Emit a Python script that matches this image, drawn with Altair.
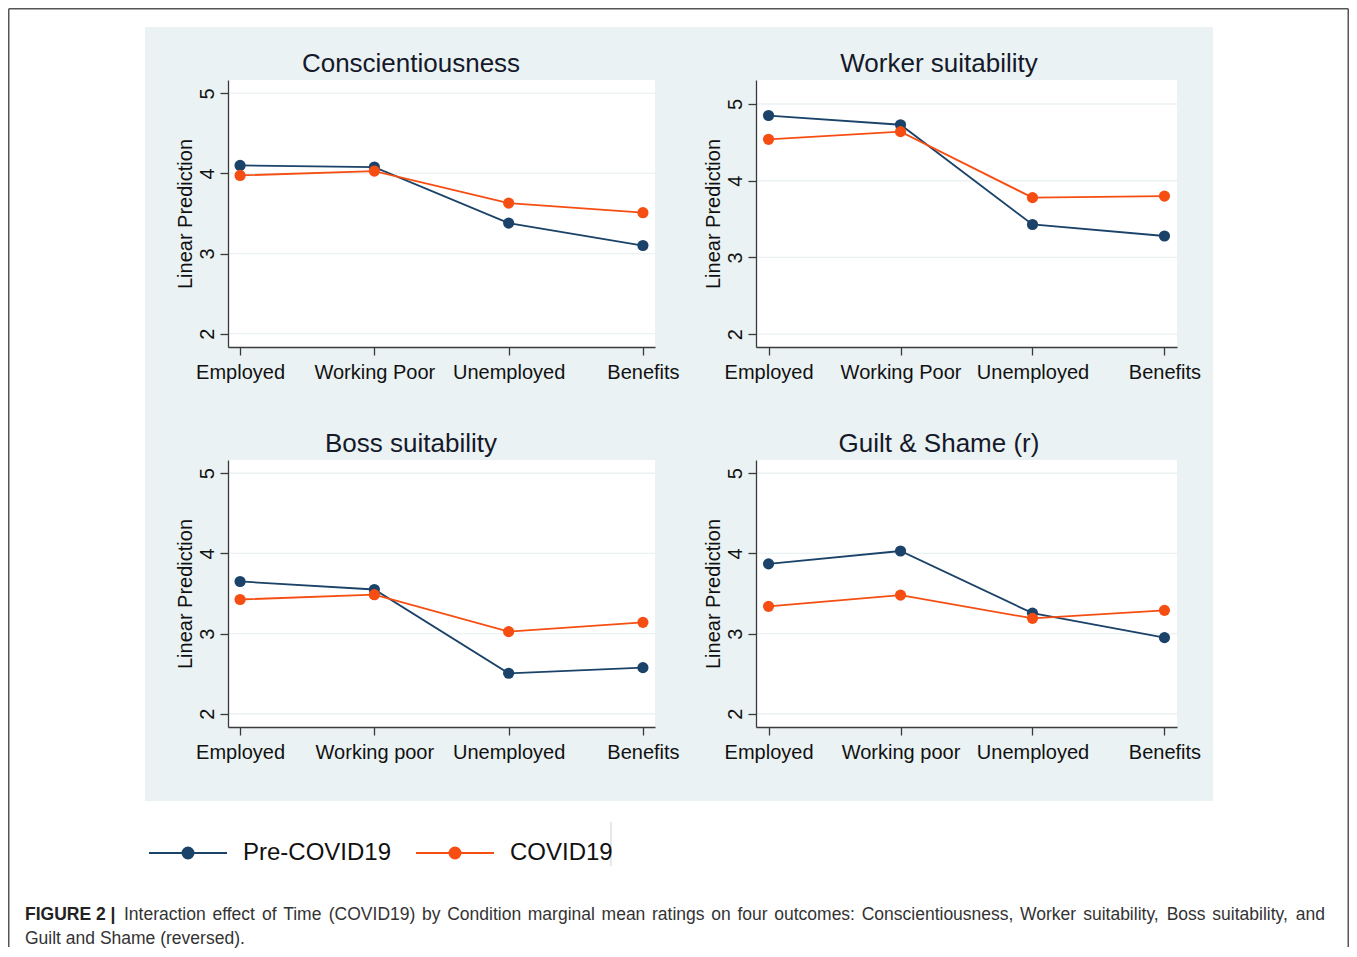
import altair as alt
import pandas as pd

# ---------------- data ----------------
conditions_top = ["Employed", "Working Poor", "Unemployed", "Benefits"]
conditions_bottom = ["Employed", "Working poor", "Unemployed", "Benefits"]
series_names = ["Pre-COVID19", "COVID19"]

consc_pre = [4.10, 4.08, 3.38, 3.10]
consc_covid = [3.975, 4.03, 3.63, 3.51]
worker_pre = [4.85, 4.73, 3.43, 3.28]
worker_covid = [4.54, 4.64, 3.78, 3.80]
boss_pre = [3.65, 3.55, 2.505, 2.575]
boss_covid = [3.425, 3.485, 3.025, 3.14]
guilt_pre = [3.87, 4.03, 3.255, 2.95]
guilt_covid = [3.34, 3.48, 3.19, 3.29]

panel_titles = ["Conscientiousness", "Worker suitability", "Boss suitability", "Guilt & Shame (r)"]
y_ticks = [2, 3, 4, 5]
y_title = "Linear Prediction"
caption_bold = "FIGURE 2 |"
caption_line1 = ("Interaction effect of Time (COVID19) by Condition marginal mean ratings on four "
                 "outcomes: Conscientiousness, Worker suitability, Boss suitability, and")
caption_line2 = "Guilt and Shame (reversed)."

# ---------------- style ----------------
NAVY = "#1b4268"
ORANGE = "#f64e12"
BG = "#eaf2f3"
AX = "#3a3a3a"
TXT = "#111111"
FONT = "Liberation Sans"
CAP_SIZE = 17.5

# Arial / Liberation Sans advance widths (per 1000 em) used to justify caption line 1
_W = {" ": 278, "(": 333, ")": 333, ",": 278, ".": 278, ":": 278, "|": 260, "&": 667, "-": 333}
_W.update({d: 556 for d in "0123456789"})
_W.update(dict(zip("ABCDEFGHIJKLMNOPQRSTUVWXYZ",
                   [667, 667, 722, 722, 667, 611, 778, 722, 278, 500, 667, 556, 833, 722, 778,
                    667, 778, 722, 667, 611, 722, 667, 944, 667, 667, 611])))
_W.update(dict(zip("abcdefghijklmnopqrstuvwxyz",
                   [556, 556, 500, 556, 556, 278, 556, 556, 222, 222, 500, 222, 833, 556, 556,
                    556, 556, 333, 500, 278, 556, 500, 722, 500, 500, 500])))


def text_width(s, size):
    return sum(_W.get(c, 556) for c in s) * size / 1000.0


def circ(r):
    return f"M{r},0A{r},{r},0,1,1,{-r},0A{r},{r},0,1,1,{r},0"


LEG_PATH = "M-1,0L1,0" + "".join(circ(r) for r in [0.141, 0.1026, 0.0641, 0.0256])

legend = alt.Legend(
    title=None, orient="none", legendX=-80, legendY=733, direction="horizontal",
    symbolType=LEG_PATH, symbolSize=6084, symbolStrokeWidth=2,
    labelFontSize=24, labelFont=FONT, labelColor=TXT, labelOffset=15,
    columnPadding=20, padding=0, labelLimit=400,
)
color = alt.Color("series:N", scale=alt.Scale(domain=series_names, range=[NAVY, ORANGE]),
                  legend=legend)

one = alt.Data(values=[{"k": 1}])


def panel(title, conds, pre, covid, w, h, ydom, xpad, box):
    df = pd.DataFrame({
        "condition": conds * 2,
        "series": [series_names[0]] * 4 + [series_names[1]] * 4,
        "value": pre + covid,
    })
    grid_df = pd.DataFrame({"value": y_ticks})
    xenc = alt.X("condition:N", sort=conds,
                 scale=alt.Scale(type="point", padding=xpad),
                 axis=alt.Axis(title=None, labelAngle=0, labelFontSize=20, labelFont=FONT,
                               labelColor=TXT, labelPadding=7, tickSize=8, tickColor=AX,
                               tickWidth=1.3, domainColor=AX, domainWidth=1.3, grid=False,
                               zindex=1, labelOverlap=False))
    yaxis = alt.Axis(values=y_ticks, title=y_title, titleFontSize=20, titleFont=FONT,
                     titleFontWeight="normal", titleColor=TXT, titleAngle=270,
                     titleX=-37, titleY=h / 2, titleAlign="center", titleBaseline="alphabetic",
                     labelAngle=270, labelAlign="center", labelBaseline="alphabetic",
                     labelFontSize=20, labelFont=FONT, labelColor=TXT, labelPadding=7,
                     tickSize=8, tickColor=AX, tickWidth=1.3, domainColor=AX, domainWidth=1.3,
                     grid=False, zindex=1, labelOverlap=False, format="d")
    yenc = alt.Y("value:Q", scale=alt.Scale(domain=ydom, nice=False, zero=False), axis=yaxis)
    x0, x1, y0, y1 = box
    bg = alt.Chart(one).mark_rect(color=BG).encode(
        x=alt.value(x0), x2=alt.value(x1), y=alt.value(y0), y2=alt.value(y1))
    white = alt.Chart(one).mark_rect(color="white").encode(
        x=alt.value(0), x2=alt.value(w), y=alt.value(0), y2=alt.value(h))
    grid = alt.Chart(grid_df).mark_rule(color=BG, strokeWidth=1.3).encode(
        y=yenc, x=alt.value(0), x2=alt.value(w))
    layers = [bg, white, grid]
    for s in series_names:
        base = alt.Chart(df).transform_filter(alt.datum.series == s)
        layers.append(base.mark_line(strokeWidth=1.8).encode(x=xenc, y=yenc, color=color))
        layers.append(base.mark_point(filled=True, size=125, opacity=1).encode(
            x=xenc, y=yenc, color=color))
    ttl = alt.Chart(one).mark_text(fontSize=26, font=FONT, color="#15192a", align="center",
                                   baseline="alphabetic").encode(
        text=alt.value(title), x=alt.value(183), y=alt.value(-8.5))
    layers.append(ttl)
    return alt.layer(*layers).properties(width=w, height=h)


p1 = panel(panel_titles[0], conditions_top, consc_pre, consc_covid, 427, 267,
           [1.833, 5.167], 0.09, (-83, 477, -53, 323))
p2 = panel(panel_titles[1], conditions_top, worker_pre, worker_covid, 421, 267,
           [1.833, 5.313], 0.095, (-51, 457, -53, 323))
p3 = panel(panel_titles[2], conditions_bottom, boss_pre, boss_covid, 427, 267,
           [1.835, 5.165], 0.09, (-83, 477, -57, 341))
p4 = panel(panel_titles[3], conditions_bottom, guilt_pre, guilt_covid, 421, 267,
           [1.835, 5.165], 0.095, (-51, 457, -57, 341))

# ---------------- footer: frame and caption ----------------
border = "#555555"
B_TOP, B_BOT, B_L, B_R = -831.25, 107, -219.25, 1120.25
b_left = alt.Chart(one).mark_rule(color=border, strokeWidth=1.5).encode(
    x=alt.value(B_L), y=alt.value(B_TOP), y2=alt.value(B_BOT))
b_top = alt.Chart(one).mark_rule(color=border, strokeWidth=1.5).encode(
    x=alt.value(B_L), x2=alt.value(B_R), y=alt.value(B_TOP))
b_right = alt.Chart(one).mark_rule(color=border, strokeWidth=1.5).encode(
    x=alt.value(B_R), y=alt.value(B_TOP), y2=alt.value(B_BOT))
artifact = alt.Chart(one).mark_rule(color="#d0d0d0", strokeWidth=1).encode(
    x=alt.value(383), y=alt.value(-18), y2=alt.value(26))

LINE1_Y, LINE2_Y = 79.5, 104
CAP_X0, LINE1_X0, LINE1_X1 = -203, -104, 1097
words = caption_line1.split(" ")
wsum = sum(text_width(wd, CAP_SIZE) for wd in words)
gap = (LINE1_X1 - LINE1_X0 - wsum) / (len(words) - 1)
xs, cur = [], LINE1_X0
for wd in words:
    xs.append(cur)
    cur += text_width(wd, CAP_SIZE) + gap
words_df = pd.DataFrame({"word": words, "px": xs})

cap_b = alt.Chart(one).mark_text(fontSize=CAP_SIZE, font=FONT, fontWeight="bold", color="#222222",
                                 align="left", baseline="alphabetic").encode(
    text=alt.value(caption_bold), x=alt.value(CAP_X0), y=alt.value(LINE1_Y))
cap_1 = alt.Chart(words_df).mark_text(fontSize=CAP_SIZE, font=FONT, color="#333333",
                                      align="left", baseline="alphabetic").encode(
    text="word:N", x=alt.X("px:Q", scale=None), y=alt.value(LINE1_Y))
cap_2 = alt.Chart(one).mark_text(fontSize=CAP_SIZE, font=FONT, color="#333333",
                                 align="left", baseline="alphabetic").encode(
    text=alt.value(caption_line2), x=alt.value(CAP_X0), y=alt.value(LINE2_Y))
footer = alt.layer(b_left, b_top, b_right, artifact, cap_b, cap_1, cap_2).properties(
    width=427, height=40)

chart = alt.concat(p1, p2, p3, p4, footer, columns=2,
                   spacing={"row": 113, "column": 101}, bounds="flush", padding=0,
                   background="white").resolve_scale(
    x="independent", y="independent", color="shared"
).configure_view(strokeWidth=0)

chart.save("out.html", embed_options={"renderer": "svg", "actions": False})
